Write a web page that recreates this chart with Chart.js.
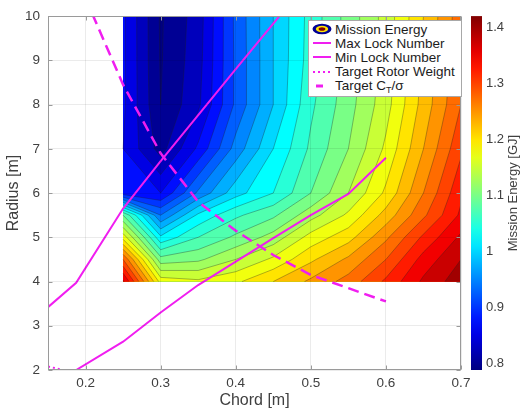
<!DOCTYPE html>
<html>
<head>
<meta charset="utf-8">
<script src="https://cdn.jsdelivr.net/npm/chart.js@4.4.0/dist/chart.umd.min.js"></script>
<style>
  html, body { margin: 0; padding: 0; background: #fff; }
  #wrap { position: relative; width: 529px; height: 410px; }
  #legend {
    position: absolute; left: 308px; top: 20px; width: 154px; height: 77px;
    box-sizing: border-box; background: #fff; border: 1px solid #a8a8a8;
    font: 13.5px "Liberation Sans", Arial, sans-serif; color: #1c1c1c;
    padding-top: 1px;
  }
  #legend .row { display: flex; align-items: center; height: 14.2px; white-space: nowrap; }
  #legend svg { margin-left: 3px; margin-right: 3px; flex: none; }
  #legend sub { font-size: 9px; vertical-align: -3px; line-height: 0; }
</style>
</head>
<body>
<div id="wrap">
  <canvas id="myChart" width="529" height="410"></canvas>
  <div id="legend"></div>
</div>
<script>
// grid of the mission energy map (GJ); rows follow radiusGrid, columns follow chordGrid
const chordGrid = [0.25, 0.3, 0.35, 0.4, 0.45, 0.5, 0.55, 0.6, 0.65, 0.7];
const radiusGrid = [4, 4.5, 5, 5.5, 6, 7, 8, 9, 10];
const energy = [
  [1.38, 1.19, 1.18, 1.195, 1.225, 1.255, 1.285, 1.33, 1.38, 1.415],
  [1.30, 1.11, 1.12, 1.15, 1.18, 1.22, 1.255, 1.30, 1.36, 1.40],
  [1.19, 1.03, 1.075, 1.105, 1.135, 1.185, 1.215, 1.27, 1.33, 1.38],
  [1.10, 0.95, 1.03, 1.07, 1.095, 1.14, 1.18, 1.235, 1.295, 1.355],
  [0.885, 0.875, 0.955, 1.015, 1.05, 1.10, 1.15, 1.205, 1.275, 1.345],
  [0.875, 0.815, 0.88, 0.96, 1.025, 1.08, 1.125, 1.18, 1.25, 1.32],
  [0.88, 0.80, 0.845, 0.93, 1.0, 1.07, 1.115, 1.165, 1.235, 1.30],
  [0.88, 0.798, 0.84, 0.93, 1.0, 1.062, 1.11, 1.16, 1.23, 1.295],
  [0.88, 0.797, 0.837, 0.931, 1.0, 1.06, 1.11, 1.16, 1.225, 1.29]
];
const energyLevels = [0.8, 0.825, 0.85, 0.875, 0.9, 0.925, 0.95, 0.975, 1, 1.025, 1.05, 1.075,
  1.1, 1.125, 1.15, 1.175, 1.2, 1.225, 1.25, 1.275, 1.3, 1.325, 1.35, 1.375, 1.4];
const colorRange = [0.7875, 1.421];

// constraint lines
const maxLockChord = [0.15, 0.1875, 0.25, 0.3, 0.35, 0.4, 0.45, 0.5];
const maxLockRadius = [3.42, 3.97, 5.65, 6.72, 7.76, 8.8, 9.83, 10.87];
const minLockChord = [0.1875, 0.25, 0.3, 0.35, 0.4, 0.45, 0.5, 0.55, 0.6];
const minLockRadius = [2.0, 2.64, 3.3, 3.92, 4.45, 4.98, 5.5, 5.98, 6.8];
const rotorWeightChord = [0.15, 0.17, 0.2];
const rotorWeightRadius = [2.08, 2.0, 1.88];
const ctSigmaChord = [0.2, 0.25, 0.3, 0.35, 0.4, 0.45, 0.5, 0.55, 0.6];
const ctSigmaRadius = [10.4, 8.45, 6.9, 5.8, 5.15, 4.6, 4.15, 3.85, 3.55];

const chordTicks = [0.2, 0.3, 0.4, 0.5, 0.6, 0.7];
const radiusTicks = [2, 3, 4, 5, 6, 7, 8, 9, 10];
const energyTicks = [0.8, 0.9, 1, 1.1, 1.2, 1.3, 1.4];

const magenta = "#f01ef0";
const tickColor = "#404040";
const fontFamily = '"Liberation Sans", Arial, sans-serif';

function jet(t) {
  t = Math.min(1, Math.max(0, t));
  const f = (d) => Math.round(255 * Math.min(1, Math.max(0, 1.5 - Math.abs(4 * t - d))));
  return "rgb(" + f(3) + "," + f(2) + "," + f(1) + ")";
}

function energyColor(v) {
  return jet((v - colorRange[0]) / (colorRange[1] - colorRange[0]));
}

// keep the part of a cell polygon where value >= level
function clipAbove(poly, level) {
  const out = [];
  for (let i = 0; i < poly.length; i++) {
    const p = poly[i];
    const q = poly[(i + 1) % poly.length];
    const pIn = p.v >= level;
    const qIn = q.v >= level;
    if (pIn) out.push(p);
    if (pIn !== qIn) {
      const t = (level - p.v) / (q.v - p.v);
      out.push({ x: p.x + t * (q.x - p.x), y: p.y + t * (q.y - p.y), v: level });
    }
  }
  return out;
}

function points(xs, ys) {
  return xs.map((x, i) => ({ x: x, y: ys[i] }));
}

const contourPlugin = {
  id: "contour",
  beforeDatasetsDraw(chart) {
    const { ctx, chartArea: a, scales } = chart;
    const px = chordGrid.map((c) => scales.x.getPixelForValue(c));
    const py = radiusGrid.map((r) => scales.y.getPixelForValue(r));
    const cells = [];
    for (let j = 0; j < radiusGrid.length - 1; j++) {
      for (let i = 0; i < chordGrid.length - 1; i++) {
        cells.push([
          { x: px[i], y: py[j], v: energy[j][i] },
          { x: px[i + 1], y: py[j], v: energy[j][i + 1] },
          { x: px[i + 1], y: py[j + 1], v: energy[j + 1][i + 1] },
          { x: px[i], y: py[j + 1], v: energy[j + 1][i] }
        ]);
      }
    }
    ctx.save();
    ctx.beginPath();
    ctx.rect(a.left, a.top, a.width, a.height);
    ctx.clip();

    ctx.fillStyle = energyColor(colorRange[0]);
    ctx.fillRect(px[0], py[py.length - 1], px[px.length - 1] - px[0], py[0] - py[py.length - 1]);

    energyLevels.forEach((level) => {
      ctx.beginPath();
      cells.forEach((cell) => {
        const poly = clipAbove(cell, level);
        if (poly.length < 3) return;
        ctx.moveTo(poly[0].x, poly[0].y);
        for (let k = 1; k < poly.length; k++) ctx.lineTo(poly[k].x, poly[k].y);
        ctx.closePath();
      });
      ctx.fillStyle = energyColor(level);
      ctx.fill();
    });

    // contour lines
    ctx.beginPath();
    energyLevels.forEach((level) => {
      cells.forEach((cell) => {
        const cut = [];
        for (let k = 0; k < 4; k++) {
          const p = cell[k];
          const q = cell[(k + 1) % 4];
          if ((p.v >= level) !== (q.v >= level)) {
            const t = (level - p.v) / (q.v - p.v);
            cut.push([p.x + t * (q.x - p.x), p.y + t * (q.y - p.y)]);
          }
        }
        for (let k = 0; k + 1 < cut.length; k += 2) {
          ctx.moveTo(cut[k][0], cut[k][1]);
          ctx.lineTo(cut[k + 1][0], cut[k + 1][1]);
        }
      });
    });
    ctx.strokeStyle = "rgba(30,30,30,0.55)";
    ctx.lineWidth = 0.6;
    ctx.stroke();
    ctx.restore();
  },
  afterDraw(chart) {
    const { ctx, chartArea: a, scales } = chart;
    const cTop = scales.energy.getPixelForValue(colorRange[1]);
    const cBottom = scales.energy.getPixelForValue(colorRange[0]);

    // colorbar
    const grad = ctx.createLinearGradient(0, cBottom, 0, cTop);
    for (let k = 0; k <= 20; k++) grad.addColorStop(k / 20, jet(k / 20));
    ctx.fillStyle = grad;
    ctx.fillRect(a.right + 10, cTop, 11, cBottom - cTop);

    // colorbar title
    ctx.save();
    ctx.translate(a.right + 52, (cTop + cBottom) / 2);
    ctx.rotate(-Math.PI / 2);
    ctx.font = "13px " + fontFamily;
    ctx.fillStyle = tickColor;
    ctx.textAlign = "center";
    ctx.textBaseline = "middle";
    ctx.fillText("Mission Energy [GJ]", 0, 0);
    ctx.restore();

    // box and inward ticks
    ctx.save();
    ctx.strokeStyle = "#9a9a9a";
    ctx.lineWidth = 1;
    const l = Math.round(a.left) + 0.5, r = Math.round(a.right) - 0.5;
    const t = Math.round(a.top) + 0.5, b = Math.round(a.bottom) - 0.5;
    ctx.strokeRect(l, t, r - l, b - t);
    ctx.beginPath();
    chordTicks.forEach((v) => {
      const xp = Math.round(scales.x.getPixelForValue(v)) + 0.5;
      ctx.moveTo(xp, b); ctx.lineTo(xp, b - 4);
      ctx.moveTo(xp, t); ctx.lineTo(xp, t + 4);
    });
    radiusTicks.forEach((v) => {
      const yp = Math.round(scales.y.getPixelForValue(v)) + 0.5;
      ctx.moveTo(l, yp); ctx.lineTo(l + 4, yp);
      ctx.moveTo(r, yp); ctx.lineTo(r - 4, yp);
    });
    ctx.stroke();
    ctx.restore();
  }
};

const ctx = document.getElementById("myChart").getContext("2d");

const myChart = new Chart(ctx, {
  type: "line",
  data: {
    datasets: [
      {
        label: "Max Lock Number",
        data: points(maxLockChord, maxLockRadius),
        borderColor: magenta,
        borderWidth: 2,
        pointRadius: 0,
        clip: 0
      },
      {
        label: "Min Lock Number",
        data: points(minLockChord, minLockRadius),
        borderColor: magenta,
        borderWidth: 2,
        pointRadius: 0,
        clip: 0
      },
      {
        label: "Target Rotor Weight",
        data: points(rotorWeightChord, rotorWeightRadius),
        borderColor: magenta,
        borderWidth: 2,
        borderDash: [2, 3],
        pointRadius: 0,
        clip: 0
      },
      {
        label: "Target C_T/σ",
        data: points(ctSigmaChord, ctSigmaRadius),
        borderColor: magenta,
        borderWidth: 2.5,
        borderDash: [11, 6],
        pointRadius: 0,
        clip: 0
      }
    ]
  },
  options: {
    responsive: false,
    animation: false,
    devicePixelRatio: 1,
    events: [],
    layout: { autoPadding: false, padding: { top: 15, left: 0, right: 0, bottom: 0 } },
    plugins: { legend: { display: false }, tooltip: { enabled: false } },
    scales: {
      x: {
        type: "linear",
        min: 0.15,
        max: 0.7,
        afterBuildTicks: (s) => { s.ticks = chordTicks.map((v) => ({ value: v })); },
        afterFit: (s) => { s.height = 40; },
        ticks: {
          callback: (v) => String(v),
          color: tickColor,
          font: { family: fontFamily, size: 13.5 },
          padding: 5,
          maxRotation: 0,
          autoSkip: false
        },
        grid: { color: "rgba(0,0,0,0.08)", drawTicks: false, z: 1 },
        border: { display: false },
        title: {
          display: true,
          text: "Chord [m]",
          color: tickColor,
          font: { family: fontFamily, size: 16 },
          padding: { top: 0, bottom: 0 }
        }
      },
      y: {
        type: "linear",
        min: 2,
        max: 10,
        afterBuildTicks: (s) => { s.ticks = radiusTicks.map((v) => ({ value: v })); },
        afterFit: (s) => { s.width = 48; },
        ticks: {
          callback: (v) => String(v),
          color: tickColor,
          font: { family: fontFamily, size: 13.5 },
          padding: 8
        },
        grid: { color: "rgba(0,0,0,0.08)", drawTicks: false, z: 1 },
        border: { display: false },
        title: {
          display: true,
          text: "Radius [m]",
          color: tickColor,
          font: { family: fontFamily, size: 16 },
          padding: { top: 4, bottom: 0 }
        }
      },
      energy: {
        axis: "y",
        type: "linear",
        position: "right",
        min: colorRange[0],
        max: colorRange[1],
        afterBuildTicks: (s) => { s.ticks = energyTicks.map((v) => ({ value: v })); },
        afterFit: (s) => { s.width = 68; },
        ticks: {
          callback: (v) => String(v),
          color: tickColor,
          font: { family: fontFamily, size: 13 },
          padding: 2
        },
        grid: { display: false, drawTicks: true, tickLength: 23 },
        border: { display: false }
      }
    }
  },
  plugins: [contourPlugin]
});

// legend drawn as page text, built from the datasets
const legendEl = document.getElementById("legend");
function svgIcon(inner) {
  return '<svg width="20" height="12" viewBox="0 0 20 12">' + inner + "</svg>";
}
function addRow(icon, text) {
  const row = document.createElement("div");
  row.className = "row";
  row.innerHTML = icon + "<span>" + text + "</span>";
  legendEl.appendChild(row);
}
addRow(
  svgIcon(
    '<ellipse cx="10" cy="6" rx="9.5" ry="5.2" fill="' + energyColor(0.8) + '"/>' +
    '<ellipse cx="10" cy="6" rx="6.2" ry="3.2" fill="' + energyColor(1.2) + '"/>' +
    '<ellipse cx="10" cy="6" rx="3.4" ry="1.8" fill="' + energyColor(1.42) + '"/>'
  ),
  "Mission Energy"
);
myChart.data.datasets.forEach((ds) => {
  const dash = ds.borderDash ? ds.borderDash.join(" ") : "none";
  const line = ds.label === "Target C_T/σ"
    ? '<line x1="4" y1="6" x2="11" y2="6" stroke="' + ds.borderColor + '" stroke-width="3"/>'
    : '<line x1="1" y1="6" x2="19" y2="6" stroke="' + ds.borderColor + '" stroke-width="' +
      ds.borderWidth + '" stroke-dasharray="' + dash + '"/>';
  const text = ds.label.replace("C_T", "C<sub>T</sub>");
  addRow(svgIcon(line), text);
});
</script>
</body>
</html>
